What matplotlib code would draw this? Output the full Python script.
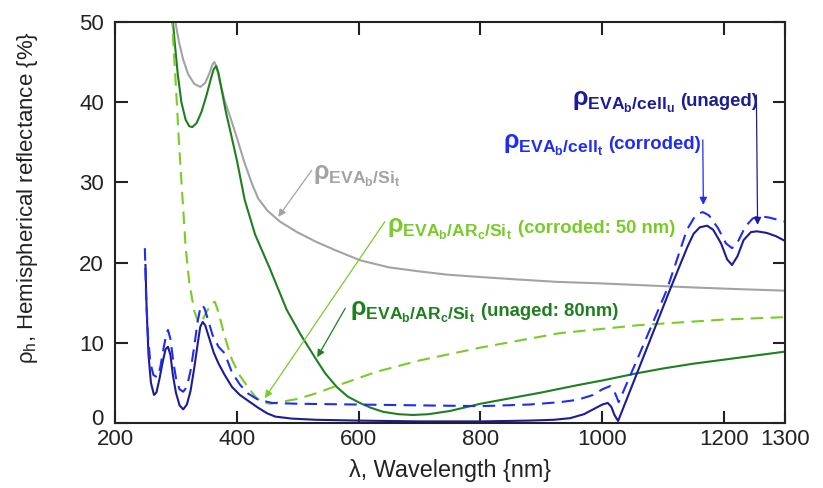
import matplotlib
matplotlib.use("Agg")
import matplotlib.pyplot as plt
import matplotlib.transforms as mtransforms

plt.rcParams['font.family'] = ['Liberation Sans', 'DejaVu Sans']
plt.rcParams['mathtext.fontset'] = 'custom'
plt.rcParams['mathtext.rm'] = 'Liberation Sans'
plt.rcParams['mathtext.it'] = 'Liberation Sans'
plt.rcParams['mathtext.bf'] = 'Liberation Sans:bold'
plt.rcParams['mathtext.default'] = 'regular'

# ---- spectra (wavelength nm, reflectance %) ----
wl_si = [295, 298, 305, 312, 320, 330, 340, 348, 355, 360, 363, 367, 372, 380, 389,
         400, 412, 425, 435, 450, 471, 499, 530, 560, 602, 650, 700, 745, 800, 860,
         925, 1000, 1060, 1150, 1220, 1300]
r_si = [52.0, 50.5, 47.5, 45.3, 43.5, 42.3, 41.9, 42.4, 43.6, 44.7, 45.0, 44.4, 42.6,
        40.2, 38.2, 35.6, 32.6, 29.8, 28.0, 26.5, 25.1, 23.8, 22.6, 21.6, 20.3, 19.4,
        18.9, 18.5, 18.2, 17.9, 17.6, 17.4, 17.2, 16.9, 16.7, 16.5]

wl_ar80 = [294, 298, 303, 309, 316, 322, 327, 334, 342, 350, 357, 362, 366, 370, 376,
           382, 389, 400, 413, 430, 454, 482, 505, 528, 545, 564, 582, 602, 620, 640,
           665, 689, 715, 750, 800, 850, 900, 958, 1000, 1057, 1100, 1150, 1200, 1250,
           1300]
r_ar80 = [51.0, 47.5, 43.5, 40.0, 37.8, 37.0, 36.9, 37.4, 38.8, 40.8, 42.8, 44.1, 44.5,
          43.6, 41.2, 38.8, 36.5, 32.8, 27.8, 23.5, 19.3, 14.1, 11.0, 8.2, 6.2, 4.5,
          3.3, 2.5, 1.9, 1.4, 1.1, 1.0, 1.1, 1.5, 2.4, 3.1, 3.8, 4.7, 5.3, 6.2, 6.8,
          7.4, 7.9, 8.4, 8.9]

wl_ar50 = [293, 300, 305, 310, 316, 322, 330, 337, 342, 350, 358, 364, 370, 380, 392,
           405, 418, 430, 441, 455, 470, 500, 530, 570, 630, 700, 800, 930, 1060, 1200,
           1300]
r_ar50 = [51.0, 42.0, 35.0, 29.0, 21.9, 17.5, 14.0, 12.5, 12.6, 13.8, 14.9, 15.1, 13.8,
          10.8, 7.9, 5.9, 4.5, 3.3, 2.6, 2.4, 2.6, 3.0, 3.7, 4.8, 6.4, 7.8, 9.4, 11.2,
          12.2, 12.9, 13.2]

wl_cell_u = [250, 252, 255, 259, 264, 268, 273, 278, 283, 287, 291, 295, 300, 306, 312,
             318, 324, 330, 336, 340, 344, 348, 355, 362, 370, 380, 392, 405, 418, 435,
             450, 463, 490, 530, 600, 700, 800, 880, 920, 947, 970, 990, 1000, 1009,
             1015, 1020, 1026, 1057, 1111, 1140, 1150, 1160, 1172, 1182, 1195, 1205,
             1213, 1222, 1232, 1244, 1254, 1270, 1285, 1300]
r_cell_u = [19.7, 14.0, 8.5, 5.0, 3.5, 3.8, 5.5, 7.5, 9.2, 9.5, 8.5, 6.0, 3.8, 2.2, 1.7,
            2.3, 4.0, 6.8, 10.0, 12.0, 12.6, 12.2, 10.5, 8.8, 7.4, 6.0, 4.5, 3.5, 2.8,
            1.9, 1.2, 0.8, 0.55, 0.4, 0.3, 0.2, 0.2, 0.3, 0.4, 0.6, 1.1, 1.9, 2.3, 2.5,
            2.0, 1.0, 0.25, 6.2, 16.6, 22.0, 23.6, 24.4, 24.6, 24.1, 22.4, 20.4, 19.7,
            20.8, 22.8, 23.8, 23.9, 23.7, 23.3, 22.7]

wl_cell_t = [249, 251, 254, 258, 263, 269, 274, 279, 284, 287, 291, 296, 301, 306, 312,
             318, 324, 330, 336, 340, 343, 347, 353, 360, 370, 380, 392, 405, 418, 435,
             458, 500, 600, 700, 800, 880, 931, 960, 985, 1000, 1013, 1020, 1027, 1060,
             1106, 1139, 1150, 1158, 1165, 1175, 1190, 1203, 1213, 1222, 1235, 1247,
             1258, 1275, 1290, 1300]
r_cell_t = [21.8, 16.0, 11.0, 7.5, 6.0, 5.7, 6.8, 9.0, 11.0, 11.6, 10.5, 7.5, 5.2, 4.2,
            3.9, 4.5, 6.5, 9.5, 12.8, 14.3, 14.7, 14.3, 12.8, 11.0, 9.5, 8.7, 6.3, 4.8,
            3.7, 2.9, 2.5, 2.4, 2.3, 2.2, 2.1, 2.3, 2.6, 2.9, 3.5, 4.2, 4.6, 3.9, 2.6,
            8.4, 16.6, 24.1, 25.5, 26.1, 26.3, 25.9, 24.3, 22.4, 21.8, 22.5, 24.5, 25.5,
            25.8, 25.6, 25.3, 25.1]

x_ticks = [200, 400, 600, 800, 1000, 1200, 1300]
y_ticks = [0, 10, 20, 30, 40, 50]

C_GRAY = '#a3a3a3'
C_DKGREEN = '#1f7f1f'
C_LTGREEN = '#78cc26'
C_NAVY = '#1c1c96'
C_BLUE = '#1f2cf5'
C_AXIS = '#222222'

fig = plt.figure(figsize=(8.23, 4.88), dpi=100)
ax = fig.add_axes([115 / 823, 1 - 423 / 488, 670 / 823, 401 / 488])

lw = 1.5
ax.plot(wl_si, r_si, color=C_GRAY, lw=lw)
ax.plot(wl_ar80, r_ar80, color=C_DKGREEN, lw=lw)
ax.plot(wl_ar50, r_ar50, color=C_LTGREEN, lw=lw, linestyle=(0, (6, 3.5)))
ax.plot(wl_cell_u, r_cell_u, color=C_NAVY, lw=lw)
ax.plot(wl_cell_t, r_cell_t, color=C_BLUE, lw=lw, linestyle=(0, (6, 3.5)))

ax.set_xlim(200, 1300)
ax.set_ylim(0, 50)
ax.set_xticks(x_ticks)
ax.set_yticks(y_ticks)
ax.tick_params(direction='in', length=9, width=1.5, labelsize=16, pad=4,
               top=True, right=True, colors=C_AXIS)
ax.tick_params(axis='y', pad=8)
for s in ax.spines.values():
    s.set_linewidth(1.5)
    s.set_color(C_AXIS)

# lift the "0" a little so it clears the "200" below it
zero_lab = ax.yaxis.get_major_ticks()[0].label1
zero_lab.set_transform(zero_lab.get_transform() +
                       mtransforms.ScaledTranslation(0, 4 / 72, fig.dpi_scale_trans))

ax.set_xlabel('λ, Wavelength {nm}', fontsize=16.8, labelpad=7, color=C_AXIS)
fig.text(28 / 823, 1 - 198 / 488, r'$\rho_h$, Hemispherical reflectance {%}',
         rotation=90, ha='center', va='center', fontsize=16, color=C_AXIS)


def label(x, y, main, extra, color, size=18):
    t = ax.text(x, y, main, color=color, fontsize=size, fontweight='bold',
                va='baseline')
    if extra:
        # the qualifier follows right after the symbol, on the same baseline
        ax.annotate(extra, xy=(1, y), xycoords=(t, 'data'),
                    xytext=(4, 0), textcoords='offset points',
                    color=color, fontsize=13.3, fontweight='bold', va='baseline')


def arrow(start, tip, color):
    ax.annotate('', xy=tip, xytext=start,
                arrowprops=dict(arrowstyle='-|>', color=color, lw=0.9,
                                mutation_scale=11, shrinkA=0, shrinkB=0))


label(525, 30.3, r'$\rho_{EVA_b/Si_t}$', None, C_GRAY)
arrow((523, 31.5), (468, 25.7), C_GRAY)

label(647, 23.7, r'$\rho_{EVA_b/AR_c/Si_t}$', '(corroded: 50 nm)', C_LTGREEN)
arrow((643, 25.1), (446, 3.1), C_LTGREEN)

label(586, 13.4, r'$\rho_{EVA_b/AR_c/Si_t}$', '(unaged: 80nm)', C_DKGREEN)
arrow((578, 14.3), (532, 8.2), C_DKGREEN)

label(950, 39.5, r'$\rho_{EVA_b/cell_u}$', '(unaged)', C_NAVY)
arrow((1253, 40.9), (1255, 24.7), C_NAVY)

label(837, 34.2, r'$\rho_{EVA_b/cell_t}$', '(corroded)', C_BLUE)
arrow((1165, 35.3), (1166, 27.2), C_BLUE)

fig.savefig('out.png', dpi=100)
